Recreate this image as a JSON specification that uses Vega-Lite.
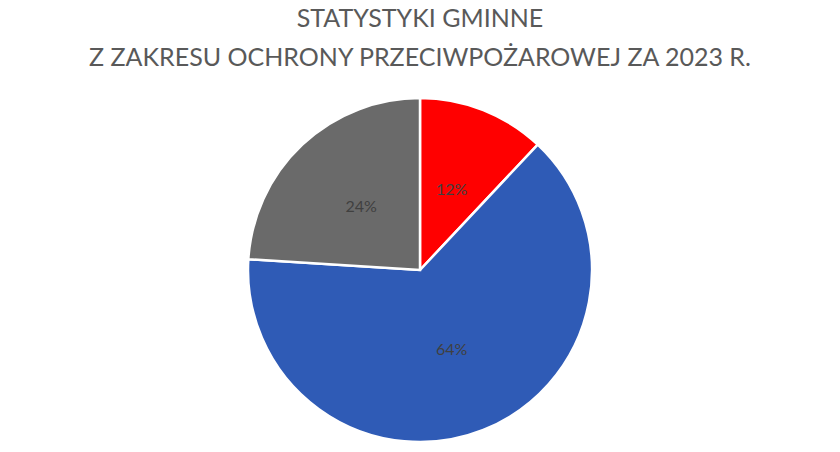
{
  "$schema": "https://vega.github.io/schema/vega-lite/v6.json",
  "width": 840,
  "height": 364,
  "autosize": "none",
  "padding": {"top": 88, "left": 0, "right": 0, "bottom": 0},
  "background": "white",
  "title": {
    "text": ["STATYSTYKI GMINNE", "Z ZAKRESU OCHRONY PRZECIWPOŻAROWEJ ZA 2023 R."],
    "anchor": "middle",
    "orient": "top",
    "baseline": "bottom",
    "offset": -8,
    "font": "Lato",
    "fontSize": 25,
    "fontWeight": "normal",
    "lineHeight": 39,
    "color": "#595959"
  },
  "data": {
    "values": [
      {"kategoria": "Pożary", "udzial": 12, "etykieta": "12%", "kolejnosc": 1},
      {"kategoria": "Miejscowe zagrożenia", "udzial": 64, "etykieta": "64%", "kolejnosc": 2},
      {"kategoria": "Alarmy fałszywe", "udzial": 24, "etykieta": "24%", "kolejnosc": 3}
    ]
  },
  "encoding": {
    "theta": {"field": "udzial", "type": "quantitative", "stack": true},
    "order": {"field": "kolejnosc", "type": "quantitative"},
    "color": {
      "field": "kategoria",
      "type": "nominal",
      "scale": {
        "domain": ["Pożary", "Miejscowe zagrożenia", "Alarmy fałszywe"],
        "range": ["#FF0000", "#2F5BB6", "#6A6A6A"]
      },
      "legend": null
    }
  },
  "layer": [
    {
      "mark": {"type": "arc", "outerRadius": 172, "stroke": "white", "strokeWidth": 2.5}
    },
    {
      "mark": {"type": "text", "radius": 86, "font": "Lato", "fontSize": 16},
      "encoding": {
        "text": {"field": "etykieta"},
        "color": {"value": "#404040"}
      }
    }
  ]
}
